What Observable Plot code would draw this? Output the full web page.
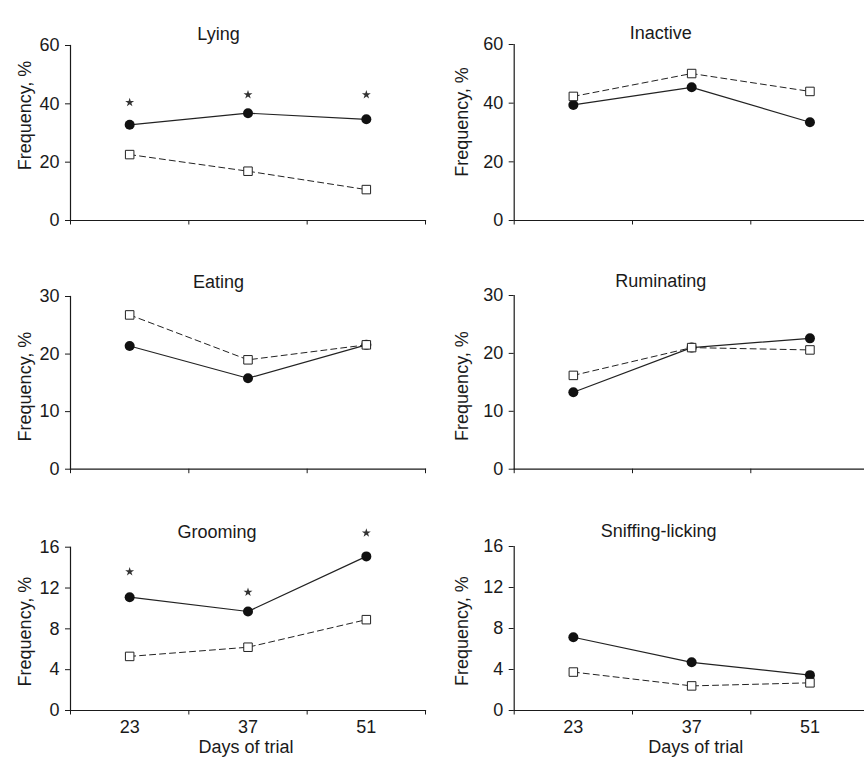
<!DOCTYPE html>
<html><head><meta charset="utf-8">
<script src="https://cdn.jsdelivr.net/npm/d3@7"></script>
<script src="https://cdn.jsdelivr.net/npm/@observablehq/plot@0.6"></script>
<style>
html,body{margin:0;padding:0;background:#fff;width:864px;height:758px;overflow:hidden;}
#root{position:relative;width:864px;height:758px;overflow:hidden;}
.panel{position:absolute;}
.panel svg{overflow:visible;display:block;max-width:none !important;}
</style></head><body><div id="root"></div>
<script>
// ---- data ----
const days = [23, 37, 51];
const dayBounds = [16, 30, 44, 58];

const titles = ["Lying", "Inactive", "Eating", "Ruminating", "Grooming", "Sniffing-licking"];

// filled circles (solid line)
const lyingA = [32.8, 36.8, 34.7];
const inactiveA = [39.4, 45.4, 33.5];
const eatingA = [21.4, 15.8, 21.6];
const ruminatingA = [13.3, 21.0, 22.6];
const groomingA = [11.1, 9.7, 15.1];
const sniffingA = [7.15, 4.7, 3.45];

// open squares (dashed line)
const lyingB = [22.6, 16.9, 10.6];
const inactiveB = [42.3, 50.1, 44.0];
const eatingB = [26.8, 19.0, 21.6];
const ruminatingB = [16.2, 21.0, 20.6];
const groomingB = [5.3, 6.2, 8.9];
const sniffingB = [3.75, 2.4, 2.7];

// significance marks (*) positions
const lyingSig = [40.5, 43.1, 43.1];
const groomingSig = [13.6, 11.6, 17.4];

const ticks60 = [0, 20, 40, 60];
const ticks30 = [0, 10, 20, 30];
const ticks16 = [0, 4, 8, 12, 16];

const yLabel = "Frequency, %";
const xLabel = "Days of trial";

// ---- layout ----
const panels = [
  {title: titles[0], A: lyingA, B: lyingB, sig: lyingSig, ticks: ticks60, left: 0, top: 0, w: 432, h: 240, mt: 45, mb: 20, ml: 70, mr: 7, tdx: -29.5, tdy: -18, ldx: -45, ldy: -17.5, bottom: false},
  {title: titles[1], A: inactiveA, B: inactiveB, sig: null, ticks: ticks60, left: 432, top: 0, w: 440, h: 240, mt: 44, mb: 20, ml: 81.7, mr: 3.4, tdx: -31, tdy: -18, ldx: -51.7, ldy: -10.5, bottom: false},
  {title: titles[2], A: eatingA, B: eatingB, sig: null, ticks: ticks30, left: 0, top: 240, w: 432, h: 250, mt: 56, mb: 21.3, ml: 70, mr: 7, tdx: -29.5, tdy: -21.5, ldx: -45, ldy: 3.7, bottom: false},
  {title: titles[3], A: ruminatingA, B: ruminatingB, sig: null, ticks: ticks30, left: 432, top: 240, w: 440, h: 250, mt: 55, mb: 21.3, ml: 81.7, mr: 3.4, tdx: -31, tdy: -21.3, ldx: -51.7, ldy: 3.7, bottom: false},
  {title: titles[4], A: groomingA, B: groomingB, sig: groomingSig, ticks: ticks16, left: 0, top: 490, w: 432, h: 268, mt: 56.7, mb: 48, ml: 70, mr: 7, tdx: -31, tdy: -21.7, ldx: -45, ldy: 2.7, bottom: true, xdx: -2},
  {title: titles[5], A: sniffingA, B: sniffingB, sig: null, ticks: ticks16, left: 432, top: 490, w: 440, h: 268, mt: 56, mb: 48, ml: 81.7, mr: 3.4, tdx: -33, tdy: -22, ldx: -51.7, ldy: 2.7, bottom: true, xdx: 4}
];

const ink = "#1a1a1a";
const root = document.getElementById("root");

for (const p of panels) {
  const rows = days.map((d, i) => ({day: d, a: p.A[i], b: p.B[i], s: p.sig ? p.sig[i] : null}));
  const ymax = p.ticks[p.ticks.length - 1];
  const marks = [
    Plot.frame({anchor: "left", stroke: ink, strokeWidth: 1.2}),
    Plot.frame({anchor: "bottom", stroke: ink, strokeWidth: 1.2}),
    Plot.axisY({ticks: p.ticks, tickSize: 5, tickPadding: 6, label: null, stroke: ink, fill: ink}),
    Plot.axisX({ticks: dayBounds, tickSize: 4.5, tickFormat: () => "", label: null, stroke: ink}),
    Plot.line(rows, {x: "day", y: "b", stroke: "#222", strokeWidth: 1, strokeDasharray: "6,4"}),
    Plot.line(rows, {x: "day", y: "a", stroke: "#222", strokeWidth: 1.2}),
    Plot.dot(rows, {x: "day", y: "a", r: 5, fill: "#111", stroke: "none"}),
    Plot.dot(rows, {x: "day", y: "b", symbol: "square", r: 4.8, fill: "white", stroke: "#222", strokeWidth: 1}),
    Plot.text([p.title], {frameAnchor: "top", dx: p.tdx, dy: p.tdy, fill: ink}),
    Plot.text([yLabel], {frameAnchor: "left", rotate: -90, textAnchor: "middle", dx: p.ldx, dy: p.ldy, fill: ink})
  ];
  if (p.sig) {
    marks.push(Plot.dot(rows, {x: "day", y: "s", symbol: "star", r: 2.8, fill: "#333", stroke: "none"}));
  }
  if (p.bottom) {
    marks.push(Plot.axisX({ticks: days, tickSize: 0, tickPadding: 9.5, tickFormat: d => String(d), label: null, fill: ink}));
    marks.push(Plot.text([xLabel], {frameAnchor: "bottom", lineAnchor: "top", dx: p.xdx, dy: 30, fill: ink}));
  }
  const chart = Plot.plot({
    width: p.w,
    height: p.h,
    marginTop: p.mt,
    marginBottom: p.mb,
    marginLeft: p.ml,
    marginRight: p.mr,
    x: {domain: [16, 58], axis: null},
    y: {domain: [0, ymax], axis: null},
    style: {fontFamily: "'Liberation Sans', Arial, sans-serif", fontSize: "18px", color: ink, background: "transparent", maxWidth: "none"},
    marks
  });
  const div = document.createElement("div");
  div.className = "panel";
  div.style.left = p.left + "px";
  div.style.top = p.top + "px";
  div.style.width = p.w + "px";
  div.appendChild(chart);
  root.appendChild(div);
}
</script>
</body></html>
